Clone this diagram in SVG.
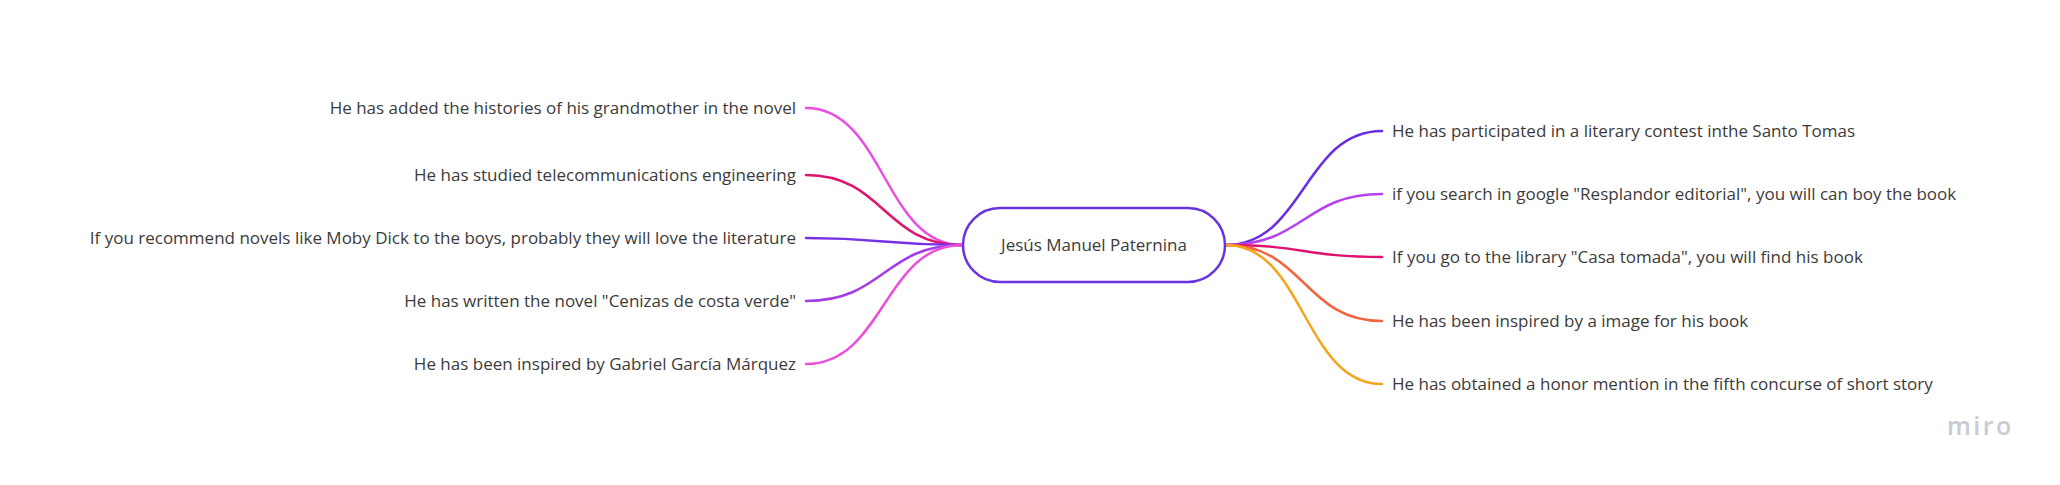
<svg xmlns="http://www.w3.org/2000/svg" width="2060" height="485" viewBox="0 0 2060 485">
  <style>
    .lbl { font-family: "Open Sans", "Liberation Sans", sans-serif; font-size: 17px; fill: #3b3b3b; }
    .l { text-anchor: end; }
    .c { fill: none; stroke-width: 2.5; stroke-linecap: round; }
  </style>
  <rect width="2060" height="485" fill="#ffffff"/>
  <g id="connectors">
    <path class="c" stroke="#ea4ee0" d="M806,108 C884,108 884,245 962,245"/>
    <path class="c" stroke="#e0146f" d="M806,175 C884,175 884,245 962,245"/>
    <path class="c" stroke="#7631e6" d="M806,238 C884,238 884,245 962,245"/>
    <path class="c" stroke="#a43de8" d="M806,301 C884,301 884,245 962,245"/>
    <path class="c" stroke="#ec4fdc" d="M806,364 C884,364 884,245 962,245"/>
    <path class="c" stroke="#6a2ee0" d="M1226,245 C1304,245 1304,131 1382,131"/>
    <path class="c" stroke="#b443ee" d="M1226,245 C1304,245 1304,194 1382,194"/>
    <path class="c" stroke="#e0116e" d="M1226,245 C1304,245 1304,257 1382,257"/>
    <path class="c" stroke="#f1643f" d="M1226,245 C1304,245 1304,321 1382,321"/>
    <path class="c" stroke="#f5a51b" d="M1226,245 C1304,245 1304,384 1382,384"/>
  </g>
  <g id="center">
    <rect x="963" y="208" width="262" height="74" rx="37" ry="37" fill="#ffffff" stroke="#6a33e0" stroke-width="2.5"/>
    <text class="lbl" x="1094" y="251" text-anchor="middle">Jesús Manuel Paternina</text>
  </g>
  <g id="left1"><text class="lbl l" x="796" y="114">He has added the histories of his grandmother in the novel</text></g>
  <g id="left2"><text class="lbl l" x="796" y="181">He has studied telecommunications engineering</text></g>
  <g id="left3"><text class="lbl l" x="796" y="244">If you recommend novels like Moby Dick to the boys, probably they will love the literature</text></g>
  <g id="left4"><text class="lbl l" x="796" y="307">He has written the novel "Cenizas de costa verde"</text></g>
  <g id="left5"><text class="lbl l" x="796" y="370">He has been inspired by Gabriel García Márquez</text></g>
  <g id="right1"><text class="lbl" x="1392" y="137">He has participated in a literary contest inthe Santo Tomas</text></g>
  <g id="right2"><text class="lbl" x="1392" y="200">if you search in google "Resplandor editorial", you will can boy the book</text></g>
  <g id="right3"><text class="lbl" x="1392" y="263">If you go to the library "Casa tomada", you will find his book</text></g>
  <g id="right4"><text class="lbl" x="1392" y="327">He has been inspired by a image for his book</text></g>
  <g id="right5"><text class="lbl" x="1392" y="390">He has obtained a honor mention in the fifth concurse of short story</text></g>
  <text x="1947" y="435" font-family="'Open Sans', 'Liberation Sans', sans-serif" font-size="25" font-weight="600" letter-spacing="2.5" fill="#c9cbd4">miro</text>
</svg>
